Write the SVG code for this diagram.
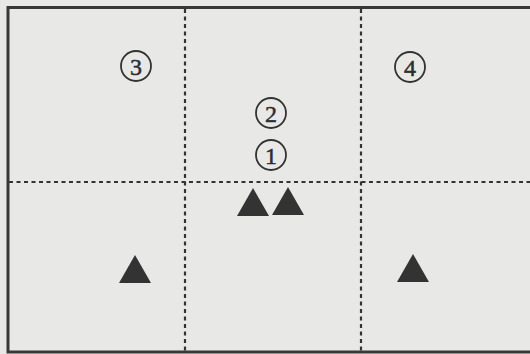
<svg xmlns="http://www.w3.org/2000/svg" width="530" height="354" viewBox="0 0 530 354">
<style>
.grid{stroke:#333333;stroke-width:2.2;stroke-dasharray:4 3.5;fill:none}
.border{stroke:#383838;stroke-width:3;fill:none}
.ring{fill:none;stroke:#333333;stroke-width:1.8}
.num{font-family:"Liberation Serif","Times New Roman",serif;font-size:24px;fill:#2e2e2e;stroke:#2e2e2e;stroke-width:0.5;text-anchor:middle}
.tri{fill:#333333}
</style>
<rect x="0" y="0" width="530" height="354" fill="#e8e8e6"/>
<g id="frame">
<path class="border" d="M540 7.5 H8 V352 H540"/>
</g>
<g id="connectors">
<line class="grid" x1="185" y1="9" x2="185" y2="351"/>
<line class="grid" x1="361" y1="9" x2="361" y2="351"/>
<line class="grid" x1="9" y1="182" x2="530" y2="182"/>
</g>
<g id="n3"><circle class="ring" cx="136" cy="66" r="15"/><text class="num" x="136" y="74.5">3</text></g>
<g id="n4"><circle class="ring" cx="410" cy="67" r="15"/><text class="num" x="410" y="75.5">4</text></g>
<g id="n2"><circle class="ring" cx="271" cy="113" r="15"/><text class="num" x="271" y="121.5">2</text></g>
<g id="n1"><circle class="ring" cx="271" cy="155" r="15"/><text class="num" x="271" y="163.5">1</text></g>
<g id="t1"><polygon class="tri" points="253,188 269,216 237,216"/></g>
<g id="t2"><polygon class="tri" points="288,187 304,215 272,215"/></g>
<g id="t3"><polygon class="tri" points="135,255 151,283 119,283"/></g>
<g id="t4"><polygon class="tri" points="413,254 429,282 397,282"/></g>
</svg>
